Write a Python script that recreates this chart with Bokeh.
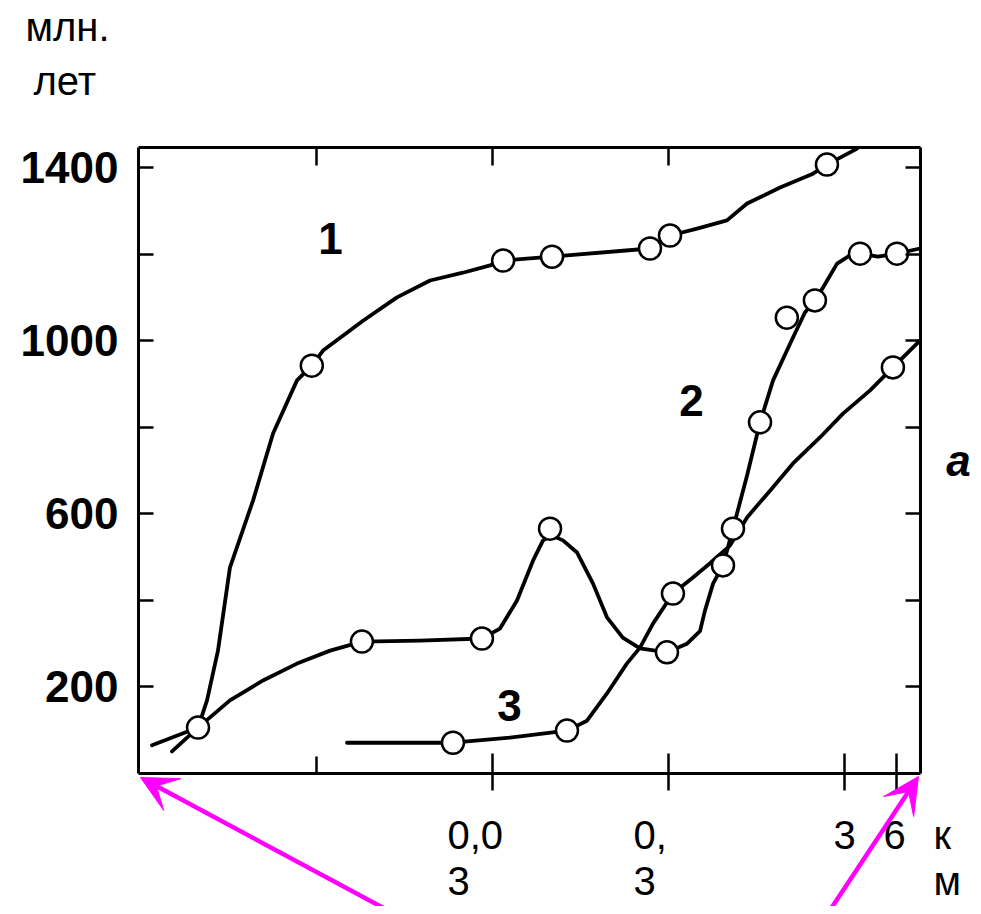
from bokeh.plotting import figure
from bokeh.models import Range1d, FixedTicker, LogAxis, LinearAxis, Label, Arrow, VeeHead
from bokeh.embed import file_html
from bokeh.resources import INLINE

# ---- data (x: depth, km, log scale; y: age, mln. years) ----
curve1_x = [0.000456, 0.000641, 0.000721, 0.000832, 0.000973, 0.001316, 0.00171, 0.00234,
            0.00284, 0.00329, 0.00555, 0.00865, 0.01334, 0.0205, 0.02925, 0.0347, 0.0658,
            0.237, 0.308, 0.439, 0.649, 0.844, 1.30, 2.00, 2.40, 3.56]
curve1_y = [50, 105, 168, 283, 475, 630, 785, 908, 942, 977, 1046, 1100, 1139, 1157, 1174,
            1185, 1194, 1213, 1243, 1259, 1278, 1317, 1354, 1386, 1407, 1444]
points1_x = [0.00284, 0.0347, 0.0658, 0.237, 0.308, 2.40]
points1_y = [942, 1185, 1194, 1213, 1243, 1407]

curve2_x = [0.000351, 0.000641, 0.000973, 0.0015, 0.00234, 0.00361, 0.00547, 0.0117, 0.0263,
            0.0333, 0.0416, 0.0513, 0.0585, 0.0658, 0.0759, 0.0912, 0.1125, 0.135, 0.166,
            0.208, 0.296, 0.385, 0.456, 0.487, 0.541, 0.616, 0.702, 0.844, 1.000, 1.186,
            1.539, 1.80, 2.05, 2.28, 2.74, 3.24, 3.70, 4.68, 6.00, 8.1]
curve2_y = [64, 105, 168, 214, 253, 283, 304, 306, 311, 334, 399, 491, 538, 549, 538, 510,
            438, 360, 313, 288, 279, 299, 328, 376, 438, 480, 565, 688, 811, 908, 1007,
            1065, 1093, 1123, 1178, 1197, 1201, 1194, 1201, 1213]
points2_x = [0.000641, 0.00547, 0.0263, 0.0641, 0.296, 0.616, 0.702, 1.000, 1.42, 2.05, 3.70, 6.00]
points2_y = [105, 304, 311, 565, 279, 480, 565, 811, 1053, 1093, 1201, 1201]

curve3_x = [0.0045, 0.009, 0.018, 0.038, 0.080, 0.104, 0.135, 0.175, 0.208, 0.247, 0.320,
            0.416, 0.520, 0.675, 0.844, 1.14, 1.539, 2.19, 2.96, 4.22, 5.69, 8.1]
curve3_y = [70, 70, 70, 82, 98, 121, 184, 253, 290, 346, 415, 452, 485, 526, 591, 653, 716,
            776, 831, 885, 938, 1000]
points3_x = [0.018, 0.080, 0.320, 5.69]
points3_y = [70, 98, 415, 938]

y_ticks_labelled = [200, 600, 1000, 1400]
y_ticks_plain = [400, 800, 1200]
y_ticks_all = [200, 400, 600, 800, 1000, 1200, 1400]
x_ticks_major = [0.03, 0.3, 3, 6]
x_ticks_minor = [0.003]
x_ticks_top = [0.003, 0.03, 0.3]

curve_names = ["1", "2", "3"]
x_unit_top = "к"
x_unit_bottom = "м"
y_unit = ["млн.", "лет"]


# ---- layout helper: reference-picture pixel -> data position ----
def ref(px, py):
    return 0.3 * 10 ** ((px - 667.5) / 176.0), (772.5 - py) / 0.4324


W, H = 973, 906
# box of the chart (axes drawn at fixed locations inside a full-canvas frame)
bx0, by1 = ref(138, 147)
bx1, by0 = ref(920, 773)
# whole canvas
cx0, cy1 = ref(0, 0)
cx1, cy0 = ref(W, H)

p = figure(width=W, height=H, x_axis_type="log",
           x_range=Range1d(cx0, cx1), y_range=Range1d(cy0, cy1),
           output_backend="svg", toolbar_location=None, min_border=0)
p.grid.visible = False
p.outline_line_color = None
p.background_fill_color = "white"
p.border_fill_color = "white"

xa = p.xaxis[0]
xa.fixed_location = by0
xa.bounds = (bx0, bx1)
xa.ticker = FixedTicker(ticks=x_ticks_major, minor_ticks=x_ticks_minor)
xa.axis_line_width = 3
xa.major_tick_line_width = 2.5
xa.major_tick_in = 20
xa.major_tick_out = 17
xa.minor_tick_line_width = 2.5
xa.minor_tick_in = 17
xa.minor_tick_out = 0
xa.major_label_text_color = None

ya = p.yaxis[0]
ya.fixed_location = bx0
ya.bounds = (by0, by1)
ya.ticker = FixedTicker(ticks=y_ticks_labelled, minor_ticks=y_ticks_plain)
ya.axis_line_width = 3
ya.major_tick_line_width = 2.5
ya.major_tick_in = 15
ya.major_tick_out = 0
ya.minor_tick_line_width = 2.5
ya.minor_tick_in = 15
ya.minor_tick_out = 0
ya.major_label_standoff = 20
ya.major_label_text_font = "Liberation Sans"
ya.major_label_text_font_size = "44px"
ya.major_label_text_font_style = "bold"
ya.major_label_text_color = "black"

top = LogAxis(ticker=FixedTicker(ticks=x_ticks_top, minor_ticks=[]),
              fixed_location=by1, bounds=(bx0, bx1),
              axis_line_width=3, major_tick_line_width=2.5, major_tick_in=18, major_tick_out=0,
              minor_tick_line_color=None, major_label_text_color=None)
p.add_layout(top, "above")
right = LinearAxis(ticker=FixedTicker(ticks=y_ticks_all, minor_ticks=[]),
                   fixed_location=bx1, bounds=(by0, by1),
                   axis_line_width=3, major_tick_line_width=2.5, major_tick_in=15, major_tick_out=0,
                   minor_tick_line_color=None, major_label_text_color=None)
p.add_layout(right, "right")

for cx, cy in [(curve1_x, curve1_y), (curve2_x, curve2_y), (curve3_x, curve3_y)]:
    p.line(cx, cy, line_width=3.8, line_color="black", line_join="round", line_cap="round")
for mx, my in [(points1_x, points1_y), (points2_x, points2_y), (points3_x, points3_y)]:
    p.scatter(mx, my, marker="circle", size=22, fill_color="white", line_color="black", line_width=2.5)

# curve numbers (scan style)
for txt, (px, py) in zip(curve_names, [(330, 238), (691, 400), (509, 705)]):
    x, y = ref(px, py)
    p.add_layout(Label(x=x, y=y, text=txt, text_font="Liberation Sans", text_font_size="44px",
                       text_font_style="bold", text_align="center", text_baseline="middle",
                       text_color="black"))
x, y = ref(958, 460)
p.add_layout(Label(x=x, y=y, text="a", text_font="Liberation Sans", text_font_size="44px",
                   text_font_style="bold italic", text_align="center", text_baseline="middle",
                   text_color="black"))

# overlay texts (left edge, vertical middle)
overlay = [(y_unit[0], 25, 26), (y_unit[1], 33, 80),
           ("0,0", 447, 834), ("3", 447, 880),
           ("0,", 633, 834), ("3", 633, 880),
           ("3", 833, 834), ("6", 883, 834),
           (x_unit_top, 933, 834), (x_unit_bottom, 933, 880)]
for txt, px, py in overlay:
    x, y = ref(px, py)
    p.add_layout(Label(x=x, y=y, text=txt, text_font="Liberation Sans", text_font_size="40px",
                       text_align="left", text_baseline="middle", text_color="black"))

# magenta arrows
for (sx, sy), (ex, ey) in [((425, 930), (140, 777)), ((816, 930), (918, 776))]:
    xs, ys = ref(sx, sy)
    xe, ye = ref(ex, ey)
    p.add_layout(Arrow(x_start=xs, y_start=ys, x_end=xe, y_end=ye,
                       line_color="#ff00ff", line_width=4.5,
                       end=VeeHead(size=36, fill_color="#ff00ff", line_color="#ff00ff")))

open("out.html", "w").write(file_html(p, INLINE))
